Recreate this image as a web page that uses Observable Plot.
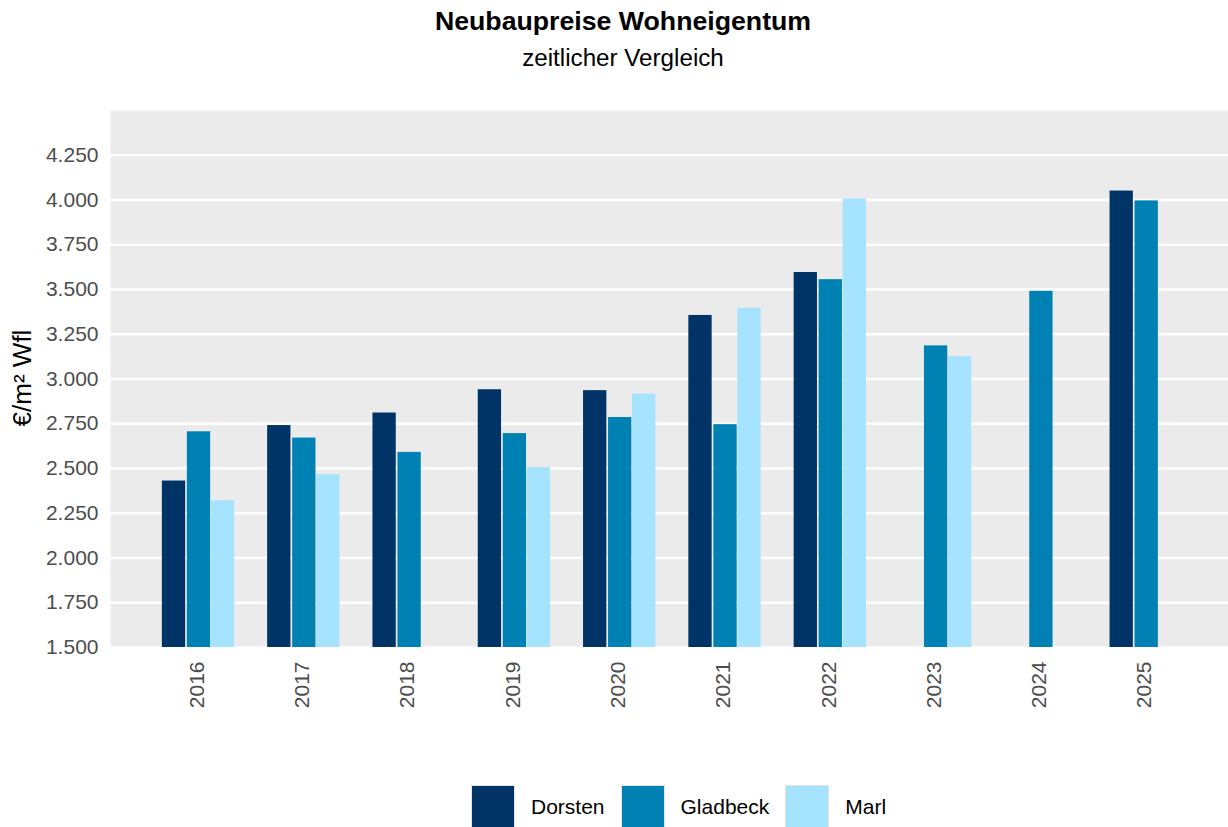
<!DOCTYPE html>
<html>
<head>
<meta charset="utf-8">
<script src="https://cdn.jsdelivr.net/npm/d3@7"></script>
<script src="https://cdn.jsdelivr.net/npm/@observablehq/plot@0.6"></script>
<style>
  body { margin: 0; background: #fff; font-family: "Liberation Sans", Arial, sans-serif; }
  #wrap { position: relative; width: 1228px; height: 827px; overflow: hidden; }
  #title { position: absolute; left: 18px; right: 0; top: 6px; text-align: center; font-weight: bold; font-size: 26.7px; line-height: 30px; color: #000; }
  #subtitle { position: absolute; left: 18px; right: 0; top: 44px; text-align: center; font-size: 24.2px; line-height: 28px; color: #000; }
  #chart { position: absolute; left: 0; top: 90px; }
  #ylab { position: absolute; left: 22px; top: 378px; transform: translate(-50%, -50%) rotate(-90deg); font-size: 26px; white-space: nowrap; color: #000; }
  #legend { position: absolute; left: 471px; top: 785px; display: flex; align-items: center; }
  .sw { width: 44px; height: 44px; box-sizing: border-box; border: 1.5px solid #e3e3e3; }
  .lab { font-size: 21px; margin-left: 16px; margin-right: 16px; color: #000; }
</style>
</head>
<body>
<div id="wrap">
  <div id="title">Neubaupreise Wohneigentum</div>
  <div id="subtitle">zeitlicher Vergleich</div>
  <div id="ylab">€/m² Wfl</div>
  <div id="chart"></div>
  <div id="legend"></div>
</div>
<script>
const years = ["2016", "2017", "2018", "2019", "2020", "2021", "2022", "2023", "2024", "2025"];
const cities = ["Dorsten", "Gladbeck", "Marl"];
const dorsten  = [2430, 2740, 2810, 2940, 2935, 3355, 3595, null, null, 4050];
const gladbeck = [2705, 2670, 2590, 2695, 2785, 2745, 3555, 3185, 3490, 3995];
const marl     = [2320, 2465, null, 2505, 2915, 3395, 4005, 3125, null, null];
const colors = ["#003366", "#0081b4", "#a6e3ff"];
const yTicks = [1500, 1750, 2000, 2250, 2500, 2750, 3000, 3250, 3500, 3750, 4000, 4250];
const yDomain = [1500, 4500];

const series = [dorsten, gladbeck, marl];
const rows = years.flatMap((yr, i) => cities.map((c, j) => ({year: yr, city: c, value: series[j][i]})))
  .filter(d => d.value != null);

const de = d3.formatLocale({decimal: ",", thousands: ".", grouping: [3], currency: ["", " €"]});
const fmt = de.format(",");

const offsets = [-25, 0, 24];

const chart = Plot.plot({
  width: 1228,
  height: 647,
  marginTop: 20,
  marginBottom: 90,
  marginLeft: 110,
  marginRight: 0,
  style: {fontFamily: "'Liberation Sans', Arial, sans-serif", background: "transparent", overflow: "visible"},
  x: {type: "band", domain: years, range: [110, 1234.7], paddingInner: 0.7787, paddingOuter: 0.7298, align: 0.5, round: false},
  y: {domain: yDomain},
  color: {domain: cities, range: colors},
  marks: [
    Plot.frame({fill: "#ebebeb", stroke: null}),
    Plot.gridY(yTicks, {stroke: "#ffffff", strokeOpacity: 1, strokeWidth: 2.7}),
    ...cities.map((c, j) => Plot.barY(rows.filter(d => d.city === c), {
      x: "year", y1: () => yDomain[0], y2: "value", fill: "city", dx: offsets[j]
    })),
    Plot.axisY(yTicks, {tickSize: 0, tickPadding: 12, tickFormat: fmt, fontSize: 21, color: "#4d4d4d", label: null}),
    Plot.axisX({tickSize: 0, tickRotate: -90, tickPadding: 14, dx: -2, fontSize: 21, color: "#4d4d4d", label: null})
  ]
});
document.getElementById("chart").appendChild(chart);

const legend = document.getElementById("legend");
cities.forEach((c, j) => {
  const sw = document.createElement("div");
  sw.className = "sw";
  sw.style.background = colors[j];
  const lab = document.createElement("span");
  lab.className = "lab";
  lab.textContent = c;
  legend.appendChild(sw);
  legend.appendChild(lab);
});
</script>
</body>
</html>
